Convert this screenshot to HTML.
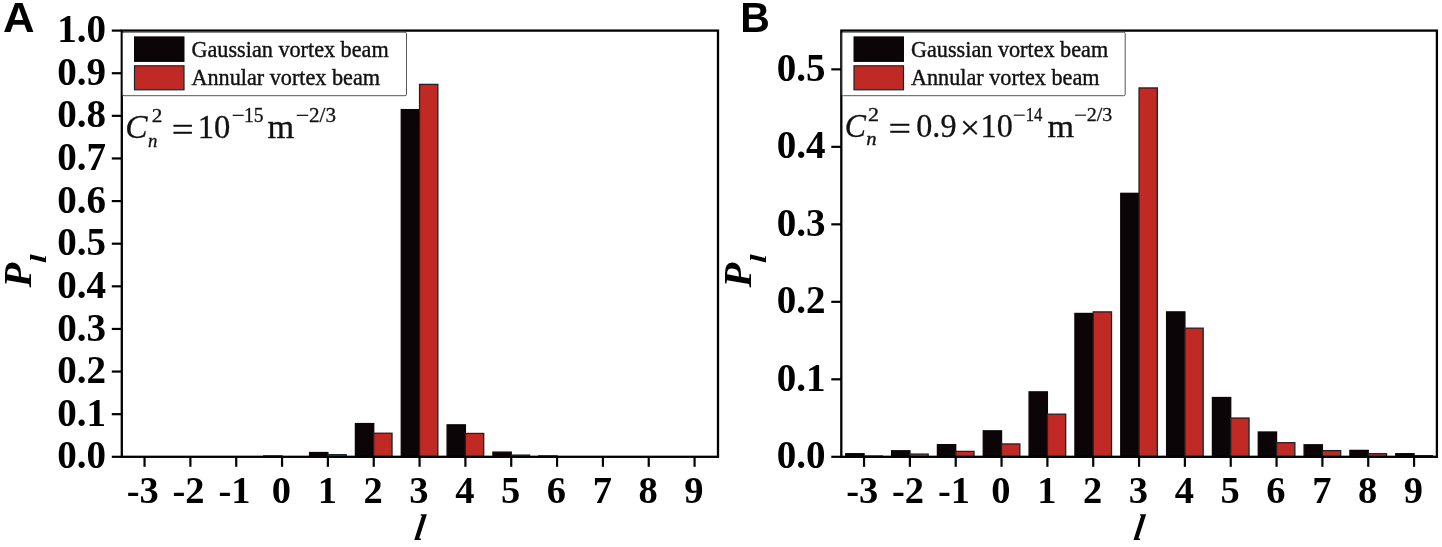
<!DOCTYPE html>
<html><head><meta charset="utf-8"><title>Figure</title>
<style>
html,body{margin:0;padding:0;background:#fff;}
svg{display:block}
text{font-family:"Liberation Serif", serif}
.tk{font-weight:bold;fill:#000}
.xl{fill:#000}
.yl{fill:#000}
.lg{font-size:22.2px;fill:#111;stroke:#111;stroke-width:0.4px}
.fm{fill:#111;stroke:#111;stroke-width:0.3px}
.pl{font-family:"Liberation Sans", sans-serif;font-weight:bold;fill:#000}
</style></head><body>
<svg width="1442" height="547" viewBox="0 0 1442 547">
<rect width="1442" height="547" fill="#fff"/>
<rect x="263.75" y="455.95" width="18.30" height="0.85" fill="#0c0507" stroke="#0c0507" stroke-width="1.3"/>
<rect x="309.59" y="452.54" width="18.30" height="4.26" fill="#0c0507" stroke="#0c0507" stroke-width="1.3"/>
<rect x="327.89" y="454.67" width="18.30" height="2.13" fill="#c12a24" stroke="#14262b" stroke-width="1.3"/>
<rect x="355.43" y="423.56" width="18.30" height="33.24" fill="#0c0507" stroke="#0c0507" stroke-width="1.3"/>
<rect x="373.73" y="433.23" width="18.30" height="23.57" fill="#c12a24" stroke="#14262b" stroke-width="1.3"/>
<rect x="401.26" y="109.62" width="18.30" height="347.18" fill="#0c0507" stroke="#0c0507" stroke-width="1.3"/>
<rect x="419.56" y="84.39" width="18.30" height="372.41" fill="#c12a24" stroke="#14262b" stroke-width="1.3"/>
<rect x="447.10" y="424.84" width="18.30" height="31.96" fill="#0c0507" stroke="#0c0507" stroke-width="1.3"/>
<rect x="465.40" y="433.44" width="18.30" height="23.36" fill="#c12a24" stroke="#14262b" stroke-width="1.3"/>
<rect x="492.93" y="452.11" width="18.30" height="4.69" fill="#0c0507" stroke="#0c0507" stroke-width="1.3"/>
<rect x="511.23" y="455.10" width="18.30" height="1.70" fill="#c12a24" stroke="#14262b" stroke-width="1.3"/>
<rect x="538.77" y="455.95" width="18.30" height="0.85" fill="#0c0507" stroke="#0c0507" stroke-width="1.3"/>
<rect x="121.8" y="30.6" width="596.2" height="426.2" fill="none" stroke="#000" stroke-width="2.3"/>
<line x1="111.8" y1="456.80" x2="121.8" y2="456.80" stroke="#000" stroke-width="2.2"/>
<text x="106.10" y="468.40" text-anchor="end" class="tk" font-size="39.1">0.0</text>
<line x1="111.8" y1="414.18" x2="121.8" y2="414.18" stroke="#000" stroke-width="2.2"/>
<text x="106.10" y="425.78" text-anchor="end" class="tk" font-size="39.1">0.1</text>
<line x1="111.8" y1="371.56" x2="121.8" y2="371.56" stroke="#000" stroke-width="2.2"/>
<text x="106.10" y="383.16" text-anchor="end" class="tk" font-size="39.1">0.2</text>
<line x1="111.8" y1="328.94" x2="121.8" y2="328.94" stroke="#000" stroke-width="2.2"/>
<text x="106.10" y="340.54" text-anchor="end" class="tk" font-size="39.1">0.3</text>
<line x1="111.8" y1="286.32" x2="121.8" y2="286.32" stroke="#000" stroke-width="2.2"/>
<text x="106.10" y="297.92" text-anchor="end" class="tk" font-size="39.1">0.4</text>
<line x1="111.8" y1="243.70" x2="121.8" y2="243.70" stroke="#000" stroke-width="2.2"/>
<text x="106.10" y="255.30" text-anchor="end" class="tk" font-size="39.1">0.5</text>
<line x1="111.8" y1="201.08" x2="121.8" y2="201.08" stroke="#000" stroke-width="2.2"/>
<text x="106.10" y="212.68" text-anchor="end" class="tk" font-size="39.1">0.6</text>
<line x1="111.8" y1="158.46" x2="121.8" y2="158.46" stroke="#000" stroke-width="2.2"/>
<text x="106.10" y="170.06" text-anchor="end" class="tk" font-size="39.1">0.7</text>
<line x1="111.8" y1="115.84" x2="121.8" y2="115.84" stroke="#000" stroke-width="2.2"/>
<text x="106.10" y="127.44" text-anchor="end" class="tk" font-size="39.1">0.8</text>
<line x1="111.8" y1="73.22" x2="121.8" y2="73.22" stroke="#000" stroke-width="2.2"/>
<text x="106.10" y="84.82" text-anchor="end" class="tk" font-size="39.1">0.9</text>
<line x1="111.8" y1="30.60" x2="121.8" y2="30.60" stroke="#000" stroke-width="2.2"/>
<text x="106.10" y="42.20" text-anchor="end" class="tk" font-size="39.1">1.0</text>
<line x1="144.55" y1="456.8" x2="144.55" y2="466.8" stroke="#000" stroke-width="2.2"/>
<text x="142.75" y="502.90" text-anchor="middle" class="tk" font-size="38.5">-3</text>
<line x1="190.39" y1="456.8" x2="190.39" y2="466.8" stroke="#000" stroke-width="2.2"/>
<text x="188.59" y="502.90" text-anchor="middle" class="tk" font-size="38.5">-2</text>
<line x1="236.22" y1="456.8" x2="236.22" y2="466.8" stroke="#000" stroke-width="2.2"/>
<text x="234.42" y="502.90" text-anchor="middle" class="tk" font-size="38.5">-1</text>
<line x1="282.06" y1="456.8" x2="282.06" y2="466.8" stroke="#000" stroke-width="2.2"/>
<text x="281.45" y="502.90" text-anchor="middle" class="tk" font-size="38.5">0</text>
<line x1="327.89" y1="456.8" x2="327.89" y2="466.8" stroke="#000" stroke-width="2.2"/>
<text x="327.29" y="502.90" text-anchor="middle" class="tk" font-size="38.5">1</text>
<line x1="373.73" y1="456.8" x2="373.73" y2="466.8" stroke="#000" stroke-width="2.2"/>
<text x="373.12" y="502.90" text-anchor="middle" class="tk" font-size="38.5">2</text>
<line x1="419.56" y1="456.8" x2="419.56" y2="466.8" stroke="#000" stroke-width="2.2"/>
<text x="418.96" y="502.90" text-anchor="middle" class="tk" font-size="38.5">3</text>
<line x1="465.40" y1="456.8" x2="465.40" y2="466.8" stroke="#000" stroke-width="2.2"/>
<text x="464.80" y="502.90" text-anchor="middle" class="tk" font-size="38.5">4</text>
<line x1="511.23" y1="456.8" x2="511.23" y2="466.8" stroke="#000" stroke-width="2.2"/>
<text x="510.63" y="502.90" text-anchor="middle" class="tk" font-size="38.5">5</text>
<line x1="557.07" y1="456.8" x2="557.07" y2="466.8" stroke="#000" stroke-width="2.2"/>
<text x="556.47" y="502.90" text-anchor="middle" class="tk" font-size="38.5">6</text>
<line x1="602.90" y1="456.8" x2="602.90" y2="466.8" stroke="#000" stroke-width="2.2"/>
<text x="602.30" y="502.90" text-anchor="middle" class="tk" font-size="38.5">7</text>
<line x1="648.74" y1="456.8" x2="648.74" y2="466.8" stroke="#000" stroke-width="2.2"/>
<text x="648.13" y="502.90" text-anchor="middle" class="tk" font-size="38.5">8</text>
<line x1="694.57" y1="456.8" x2="694.57" y2="466.8" stroke="#000" stroke-width="2.2"/>
<text x="693.97" y="502.90" text-anchor="middle" class="tk" font-size="38.5">9</text>
<text transform="translate(413.53,540.20) skewX(-9) scale(0.907,1)" font-size="37.2" font-style="italic" font-weight="bold" class="xl">l</text>
<text transform="translate(31.40,287.60) rotate(-90) scale(0.991,1)" font-size="40.7" font-style="italic" font-weight="bold" class="yl">P</text>
<text transform="translate(46.00,263.25) rotate(-90) scale(1.385,1)" font-size="23.5" font-style="italic" font-weight="bold" class="yl">l</text>
<rect x="122.5" y="32.2" width="284" height="63.5" rx="1.5" fill="#fff" stroke="#555" stroke-width="1"/>
<rect x="134.5" y="36.900000000000006" width="49.5" height="24.5" fill="#0c0507" stroke="#0c0507" stroke-width="1"/>
<rect x="134.5" y="65.80000000000001" width="49.5" height="24" fill="#c12a24" stroke="#0c2a30" stroke-width="1.2"/>
<text x="191.5" y="57.2" class="lg">Gaussian vortex beam</text>
<text x="191.5" y="85.4" class="lg">Annular vortex beam</text><text transform="translate(125.16,138.00) scale(0.968,1)" font-size="34.5" font-style="italic" class="fm">C</text>
<text transform="translate(151.74,121.60) scale(1.090,1)" font-size="19.5" class="fm">2</text>
<text transform="translate(148.04,146.80) scale(0.965,1)" font-size="19.5" font-style="italic" class="fm">n</text>
<text transform="translate(171.85,140.60) scale(1.145,1)" font-size="34" class="fm">=</text>
<text transform="translate(197.73,138.00) scale(0.954,1)" font-size="34.2" class="fm">10</text>
<text transform="translate(231.86,122.30) scale(1.140,1)" font-size="20" class="fm">−</text>
<text transform="translate(243.94,122.00) scale(0.977,1)" font-size="20" class="fm">15</text>
<text transform="translate(267.61,138.00) scale(1.041,1)" font-size="33" class="fm">m</text>
<text transform="translate(295.71,122.30) scale(1.194,1)" font-size="20" class="fm">−</text>
<text transform="translate(309.05,122.00) scale(1.054,1)" font-size="20" class="fm">2/3</text>
<rect x="845.75" y="453.70" width="18.30" height="3.10" fill="#0c0507" stroke="#0c0507" stroke-width="1.3"/>
<rect x="864.05" y="456.03" width="18.30" height="0.77" fill="#c12a24" stroke="#14262b" stroke-width="1.3"/>
<rect x="891.59" y="450.76" width="18.30" height="6.04" fill="#0c0507" stroke="#0c0507" stroke-width="1.3"/>
<rect x="909.88" y="454.09" width="18.30" height="2.71" fill="#c12a24" stroke="#14262b" stroke-width="1.3"/>
<rect x="937.42" y="444.63" width="18.30" height="12.17" fill="#0c0507" stroke="#0c0507" stroke-width="1.3"/>
<rect x="955.72" y="451.38" width="18.30" height="5.42" fill="#c12a24" stroke="#14262b" stroke-width="1.3"/>
<rect x="983.25" y="430.84" width="18.30" height="25.96" fill="#0c0507" stroke="#0c0507" stroke-width="1.3"/>
<rect x="1001.55" y="443.94" width="18.30" height="12.86" fill="#c12a24" stroke="#14262b" stroke-width="1.3"/>
<rect x="1029.09" y="391.86" width="18.30" height="64.94" fill="#0c0507" stroke="#0c0507" stroke-width="1.3"/>
<rect x="1047.39" y="414.18" width="18.30" height="42.62" fill="#c12a24" stroke="#14262b" stroke-width="1.3"/>
<rect x="1074.92" y="313.44" width="18.30" height="143.36" fill="#0c0507" stroke="#0c0507" stroke-width="1.3"/>
<rect x="1093.22" y="311.89" width="18.30" height="144.91" fill="#c12a24" stroke="#14262b" stroke-width="1.3"/>
<rect x="1120.76" y="193.33" width="18.30" height="263.47" fill="#0c0507" stroke="#0c0507" stroke-width="1.3"/>
<rect x="1139.06" y="87.94" width="18.30" height="368.86" fill="#c12a24" stroke="#14262b" stroke-width="1.3"/>
<rect x="1166.60" y="311.89" width="18.30" height="144.91" fill="#0c0507" stroke="#0c0507" stroke-width="1.3"/>
<rect x="1184.89" y="328.17" width="18.30" height="128.63" fill="#c12a24" stroke="#14262b" stroke-width="1.3"/>
<rect x="1212.43" y="397.52" width="18.30" height="59.28" fill="#0c0507" stroke="#0c0507" stroke-width="1.3"/>
<rect x="1230.73" y="418.05" width="18.30" height="38.75" fill="#c12a24" stroke="#14262b" stroke-width="1.3"/>
<rect x="1258.27" y="432.00" width="18.30" height="24.80" fill="#0c0507" stroke="#0c0507" stroke-width="1.3"/>
<rect x="1276.57" y="442.70" width="18.30" height="14.10" fill="#c12a24" stroke="#14262b" stroke-width="1.3"/>
<rect x="1304.10" y="444.79" width="18.30" height="12.01" fill="#0c0507" stroke="#0c0507" stroke-width="1.3"/>
<rect x="1322.40" y="450.60" width="18.30" height="6.20" fill="#c12a24" stroke="#14262b" stroke-width="1.3"/>
<rect x="1349.93" y="450.37" width="18.30" height="6.43" fill="#0c0507" stroke="#0c0507" stroke-width="1.3"/>
<rect x="1368.23" y="453.70" width="18.30" height="3.10" fill="#c12a24" stroke="#14262b" stroke-width="1.3"/>
<rect x="1395.77" y="453.70" width="18.30" height="3.10" fill="#0c0507" stroke="#0c0507" stroke-width="1.3"/>
<rect x="1414.07" y="455.64" width="18.30" height="1.16" fill="#c12a24" stroke="#14262b" stroke-width="1.3"/>
<rect x="841.3" y="30.6" width="595.6000000000001" height="426.2" fill="none" stroke="#000" stroke-width="2.3"/>
<line x1="831.3" y1="456.80" x2="841.3" y2="456.80" stroke="#000" stroke-width="2.2"/>
<text x="825.60" y="468.40" text-anchor="end" class="tk" font-size="39.1">0.0</text>
<line x1="831.3" y1="379.31" x2="841.3" y2="379.31" stroke="#000" stroke-width="2.2"/>
<text x="825.60" y="390.91" text-anchor="end" class="tk" font-size="39.1">0.1</text>
<line x1="831.3" y1="301.82" x2="841.3" y2="301.82" stroke="#000" stroke-width="2.2"/>
<text x="825.60" y="313.42" text-anchor="end" class="tk" font-size="39.1">0.2</text>
<line x1="831.3" y1="224.33" x2="841.3" y2="224.33" stroke="#000" stroke-width="2.2"/>
<text x="825.60" y="235.93" text-anchor="end" class="tk" font-size="39.1">0.3</text>
<line x1="831.3" y1="146.84" x2="841.3" y2="146.84" stroke="#000" stroke-width="2.2"/>
<text x="825.60" y="158.44" text-anchor="end" class="tk" font-size="39.1">0.4</text>
<line x1="831.3" y1="69.35" x2="841.3" y2="69.35" stroke="#000" stroke-width="2.2"/>
<text x="825.60" y="80.95" text-anchor="end" class="tk" font-size="39.1">0.5</text>
<line x1="864.05" y1="456.8" x2="864.05" y2="466.8" stroke="#000" stroke-width="2.2"/>
<text x="862.25" y="502.90" text-anchor="middle" class="tk" font-size="38.5">-3</text>
<line x1="909.88" y1="456.8" x2="909.88" y2="466.8" stroke="#000" stroke-width="2.2"/>
<text x="908.09" y="502.90" text-anchor="middle" class="tk" font-size="38.5">-2</text>
<line x1="955.72" y1="456.8" x2="955.72" y2="466.8" stroke="#000" stroke-width="2.2"/>
<text x="953.92" y="502.90" text-anchor="middle" class="tk" font-size="38.5">-1</text>
<line x1="1001.55" y1="456.8" x2="1001.55" y2="466.8" stroke="#000" stroke-width="2.2"/>
<text x="1000.95" y="502.90" text-anchor="middle" class="tk" font-size="38.5">0</text>
<line x1="1047.39" y1="456.8" x2="1047.39" y2="466.8" stroke="#000" stroke-width="2.2"/>
<text x="1046.79" y="502.90" text-anchor="middle" class="tk" font-size="38.5">1</text>
<line x1="1093.22" y1="456.8" x2="1093.22" y2="466.8" stroke="#000" stroke-width="2.2"/>
<text x="1092.62" y="502.90" text-anchor="middle" class="tk" font-size="38.5">2</text>
<line x1="1139.06" y1="456.8" x2="1139.06" y2="466.8" stroke="#000" stroke-width="2.2"/>
<text x="1138.46" y="502.90" text-anchor="middle" class="tk" font-size="38.5">3</text>
<line x1="1184.89" y1="456.8" x2="1184.89" y2="466.8" stroke="#000" stroke-width="2.2"/>
<text x="1184.30" y="502.90" text-anchor="middle" class="tk" font-size="38.5">4</text>
<line x1="1230.73" y1="456.8" x2="1230.73" y2="466.8" stroke="#000" stroke-width="2.2"/>
<text x="1230.13" y="502.90" text-anchor="middle" class="tk" font-size="38.5">5</text>
<line x1="1276.57" y1="456.8" x2="1276.57" y2="466.8" stroke="#000" stroke-width="2.2"/>
<text x="1275.97" y="502.90" text-anchor="middle" class="tk" font-size="38.5">6</text>
<line x1="1322.40" y1="456.8" x2="1322.40" y2="466.8" stroke="#000" stroke-width="2.2"/>
<text x="1321.80" y="502.90" text-anchor="middle" class="tk" font-size="38.5">7</text>
<line x1="1368.23" y1="456.8" x2="1368.23" y2="466.8" stroke="#000" stroke-width="2.2"/>
<text x="1367.63" y="502.90" text-anchor="middle" class="tk" font-size="38.5">8</text>
<line x1="1414.07" y1="456.8" x2="1414.07" y2="466.8" stroke="#000" stroke-width="2.2"/>
<text x="1413.47" y="502.90" text-anchor="middle" class="tk" font-size="38.5">9</text>
<text transform="translate(1132.73,540.20) skewX(-9) scale(0.907,1)" font-size="37.2" font-style="italic" font-weight="bold" class="xl">l</text>
<text transform="translate(751.10,287.50) rotate(-90) scale(0.991,1)" font-size="40.7" font-style="italic" font-weight="bold" class="yl">P</text>
<text transform="translate(765.70,263.15) rotate(-90) scale(1.385,1)" font-size="23.5" font-style="italic" font-weight="bold" class="yl">l</text>
<rect x="842" y="32.2" width="283.2" height="63.5" rx="1.5" fill="#fff" stroke="#555" stroke-width="1"/>
<rect x="854" y="36.900000000000006" width="49.5" height="24.5" fill="#0c0507" stroke="#0c0507" stroke-width="1"/>
<rect x="854" y="65.80000000000001" width="49.5" height="24" fill="#c12a24" stroke="#0c2a30" stroke-width="1.2"/>
<text x="911" y="57.2" class="lg">Gaussian vortex beam</text>
<text x="911" y="85.4" class="lg">Annular vortex beam</text><text transform="translate(844.85,137.20) scale(0.948,1)" font-size="33.5" font-style="italic" class="fm">C</text>
<text transform="translate(868.11,120.80) scale(1.189,1)" font-size="18.5" class="fm">2</text>
<text transform="translate(866.18,144.90) scale(1.119,1)" font-size="18.5" font-style="italic" class="fm">n</text>
<text transform="translate(888.50,139.80) scale(1.212,1)" font-size="33" class="fm">=</text>
<text transform="translate(916.27,137.20) scale(0.966,1)" font-size="33.3" class="fm">0.9</text>
<text transform="translate(959.96,138.90) scale(1.077,1)" font-size="33" class="fm">×</text>
<text transform="translate(980.57,137.20) scale(0.966,1)" font-size="33.3" class="fm">10</text>
<text transform="translate(1012.66,120.50) scale(1.266,1)" font-size="18" class="fm">−</text>
<text transform="translate(1025.68,120.50) scale(0.926,1)" font-size="18" class="fm">14</text>
<text transform="translate(1047.52,137.00) scale(1.070,1)" font-size="32" class="fm">m</text>
<text transform="translate(1074.27,120.80) scale(1.254,1)" font-size="18" class="fm">−</text>
<text transform="translate(1086.70,121.00) scale(1.081,1)" font-size="18.5" class="fm">2/3</text>
<text transform="translate(2.91,32.20) scale(1.029,1)" font-size="42.5" font-weight="bold" class="pl">A</text>
<text transform="translate(740.14,32.20) scale(0.953,1)" font-size="43" font-weight="bold" class="pl">B</text>
</svg>
</body></html>
